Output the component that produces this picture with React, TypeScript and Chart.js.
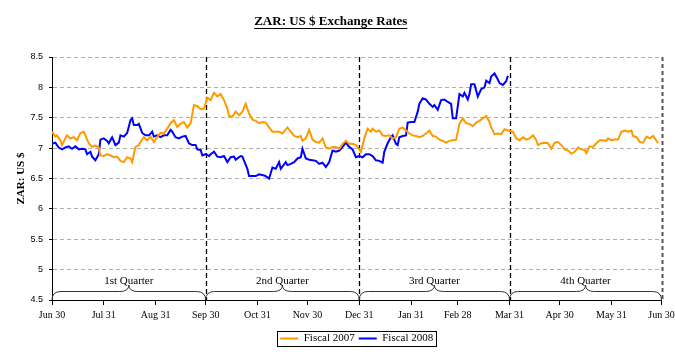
import React, { useEffect, useRef } from 'react';
import { Chart, registerables } from 'chart.js';

Chart.register(...registerables);

const titleText = 'ZAR: US $ Exchange Rates';
const yAxisTitle = 'ZAR: US $';
const seriesNames = ['Fiscal 2007', 'Fiscal 2008'];
const seriesColors = ['#FF9900', '#0000FF'];

const monthEndDays = [0, 31, 62, 92, 123, 153, 184, 215, 243, 274, 304, 335, 365];
const monthEndLabels = ['Jun 30', 'Jul 31', 'Aug 31', 'Sep 30', 'Oct 31', 'Nov 30', 'Dec 31', 'Jan 31', 'Feb 28', 'Mar 31', 'Apr 30', 'May 31', 'Jun 30'];

const quarterBounds = [0, 92, 184, 274, 365];
const quarterLabels = ['1st Quarter', '2nd Quarter', '3rd Quarter', '4th Quarter'];

const fy2007Days = [0, 2, 3, 5, 6, 8, 9, 11, 13, 15, 17, 19, 20, 22, 24, 26, 28, 29, 31, 33, 35, 37, 39, 41, 43, 45, 47, 48, 50, 52, 53, 55, 57, 59, 61, 63, 65, 67, 69, 71, 73, 75, 77, 79, 81, 83, 85, 87, 89, 91, 93, 95, 97, 99, 101, 103, 105, 106, 108, 110, 112, 114, 116, 118, 120, 122, 124, 126, 128, 130, 132, 134, 136, 138, 141, 143, 145, 147, 149, 150, 152, 154, 156, 158, 160, 162, 164, 166, 168, 170, 172, 174, 176, 178, 180, 182, 184, 185, 187, 189, 191, 192, 194, 196, 198, 200, 202, 204, 206, 208, 210, 212, 214, 216, 218, 220, 222, 224, 226, 228, 230, 232, 234, 236, 238, 240, 242, 244, 246, 248, 250, 252, 254, 256, 258, 260, 262, 263, 265, 267, 269, 271, 273, 276, 278, 280, 282, 284, 286, 288, 290, 291, 293, 295, 297, 299, 301, 303, 305, 307, 309, 311, 313, 315, 317, 319, 320, 322, 324, 326, 328, 330, 332, 333, 335, 337, 339, 341, 343, 345, 347, 348, 350, 352, 354, 356, 358, 360, 361, 363];
const fy2007Rates = [7.27, 7.19, 7.21, 7.13, 7.05, 7.16, 7.21, 7.16, 7.18, 7.13, 7.25, 7.27, 7.21, 7.08, 7.02, 7.04, 7.01, 6.88, 6.87, 6.90, 6.88, 6.85, 6.86, 6.79, 6.77, 6.85, 6.83, 6.77, 7.02, 7.05, 7.10, 7.18, 7.13, 7.19, 7.10, 7.18, 7.25, 7.24, 7.32, 7.41, 7.46, 7.35, 7.40, 7.43, 7.34, 7.41, 7.71, 7.69, 7.64, 7.65, 7.83, 7.79, 7.91, 7.85, 7.89, 7.79, 7.65, 7.53, 7.52, 7.60, 7.54, 7.60, 7.73, 7.57, 7.47, 7.45, 7.41, 7.43, 7.42, 7.34, 7.27, 7.27, 7.27, 7.24, 7.34, 7.27, 7.20, 7.18, 7.20, 7.12, 7.16, 7.30, 7.14, 7.10, 7.09, 7.16, 7.01, 6.99, 7.02, 7.02, 6.99, 7.07, 7.12, 7.07, 7.07, 7.05, 6.98, 6.94, 7.16, 7.32, 7.27, 7.32, 7.27, 7.29, 7.21, 7.20, 7.21, 7.16, 7.18, 7.32, 7.34, 7.29, 7.24, 7.21, 7.20, 7.18, 7.20, 7.24, 7.29, 7.20, 7.19, 7.14, 7.12, 7.09, 7.12, 7.13, 7.14, 7.40, 7.49, 7.41, 7.40, 7.36, 7.42, 7.45, 7.49, 7.53, 7.43, 7.34, 7.23, 7.24, 7.23, 7.31, 7.29, 7.27, 7.16, 7.13, 7.18, 7.14, 7.16, 7.21, 7.13, 7.05, 7.08, 7.09, 7.08, 6.99, 7.09, 7.10, 7.05, 6.98, 6.96, 6.91, 6.94, 7.01, 6.98, 6.97, 6.92, 7.03, 7.02, 7.08, 7.13, 7.13, 7.12, 7.16, 7.13, 7.14, 7.14, 7.27, 7.29, 7.27, 7.29, 7.20, 7.18, 7.10, 7.09, 7.19, 7.16, 7.20, 7.16, 7.08];

const fy2008Days = [0, 2, 4, 6, 8, 10, 12, 14, 16, 18, 20, 21, 23, 24, 26, 28, 29, 31, 33, 34, 36, 38, 40, 41, 43, 45, 47, 48, 49, 51, 52, 54, 56, 58, 60, 61, 63, 65, 67, 69, 71, 72, 74, 76, 78, 80, 82, 84, 86, 87, 89, 90, 92, 94, 95, 97, 99, 101, 103, 105, 107, 109, 110, 113, 114, 117, 118, 121, 122, 124, 127, 128, 130, 132, 134, 136, 137, 140, 141, 143, 145, 147, 149, 150, 152, 154, 156, 158, 160, 162, 164, 166, 168, 170, 172, 174, 176, 178, 180, 182, 184, 186, 188, 190, 192, 194, 196, 198, 199, 201, 203, 204, 206, 207, 208, 210, 212, 213, 215, 217, 219, 220, 222, 224, 226, 228, 229, 231, 233, 235, 237, 239, 240, 242, 244, 246, 247, 249, 250, 251, 253, 255, 257, 259, 260, 262, 263, 265, 267, 268, 270, 272, 273];
const fy2008Rates = [7.07, 7.09, 7.01, 6.98, 7.01, 7.03, 6.99, 7.03, 6.98, 6.99, 6.98, 6.90, 6.94, 6.86, 6.80, 6.90, 7.14, 7.16, 7.12, 7.08, 7.18, 7.05, 7.09, 7.21, 7.19, 7.25, 7.46, 7.49, 7.38, 7.38, 7.40, 7.25, 7.21, 7.21, 7.27, 7.19, 7.21, 7.18, 7.21, 7.21, 7.30, 7.27, 7.18, 7.16, 7.19, 7.20, 7.08, 7.05, 7.05, 6.98, 6.97, 6.88, 6.90, 6.87, 6.90, 6.94, 6.86, 6.85, 6.87, 6.77, 6.85, 6.86, 6.81, 6.87, 6.86, 6.66, 6.54, 6.54, 6.54, 6.57, 6.55, 6.54, 6.50, 6.68, 6.66, 6.77, 6.66, 6.77, 6.72, 6.74, 6.77, 6.83, 6.85, 6.99, 6.83, 6.81, 6.80, 6.79, 6.74, 6.76, 6.69, 6.77, 6.96, 6.94, 6.96, 7.02, 7.09, 7.02, 6.98, 6.85, 6.87, 6.85, 6.90, 6.90, 6.87, 6.80, 6.79, 6.76, 6.94, 7.08, 7.18, 7.21, 7.07, 7.05, 7.18, 7.20, 7.21, 7.42, 7.43, 7.43, 7.60, 7.73, 7.82, 7.80, 7.73, 7.68, 7.71, 7.63, 7.79, 7.80, 7.76, 7.73, 7.49, 7.49, 7.89, 7.85, 7.91, 7.80, 7.89, 8.05, 8.05, 7.85, 7.97, 8.00, 8.11, 8.07, 8.18, 8.23, 8.13, 8.07, 8.04, 8.10, 8.19];

const yMin = 4.5;
const yMax = 8.5;
const yStep = 0.5;

const SERIF = '"Liberation Serif", "Times New Roman", serif';
const SANS = '"Liberation Sans", Arial, sans-serif';

const decorPlugin = {
  id: 'decor',
  beforeDatasetsDraw(chart: any) {
    const { ctx, chartArea, scales } = chart;
    const x = scales.x;
    ctx.save();
    quarterBounds.slice(1).forEach((d, i, arr) => {
      const px = Math.round(x.getPixelForValue(d)) + 0.5;
      const last = i === arr.length - 1;
      ctx.strokeStyle = last ? '#555' : '#000';
      ctx.lineWidth = last ? 2 : 1.3;
      ctx.setLineDash(last ? [4, 3] : [5, 3]);
      ctx.beginPath();
      ctx.moveTo(px, chartArea.top);
      ctx.lineTo(px, chartArea.bottom);
      ctx.stroke();
    });
    ctx.restore();
  },
  afterDatasetsDraw(chart: any) {
    const { ctx, chartArea, scales } = chart;
    const x = scales.x;
    const y0 = chartArea.bottom;
    const yh = y0 - 8.5;
    const yp = y0 - 15;
    const r = 9;
    ctx.save();
    ctx.strokeStyle = '#333';
    ctx.lineWidth = 1;
    ctx.setLineDash([]);
    for (let q = 0; q < quarterLabels.length; q++) {
      const xa = x.getPixelForValue(quarterBounds[q]);
      const xb = x.getPixelForValue(quarterBounds[q + 1]);
      const xm = (xa + xb) / 2;
      ctx.beginPath();
      ctx.moveTo(xa, y0);
      ctx.quadraticCurveTo(xa, yh, xa + r, yh);
      ctx.lineTo(xm - r, yh);
      ctx.quadraticCurveTo(xm, yh, xm, yp);
      ctx.quadraticCurveTo(xm, yh, xm + r, yh);
      ctx.lineTo(xb - r, yh);
      ctx.quadraticCurveTo(xb, yh, xb, y0);
      ctx.stroke();
      ctx.fillStyle = '#000';
      ctx.font = `11px ${SERIF}`;
      ctx.textAlign = 'center';
      ctx.textBaseline = 'alphabetic';
      ctx.fillText(quarterLabels[q], xm, y0 - 16.5);
    }
    ctx.restore();
  },
  afterDraw(chart: any) {
    const { ctx } = chart;
    ctx.save();
    const tb = chart.titleBlock;
    if (tb) {
      ctx.font = `bold 13px ${SERIF}`;
      const w = ctx.measureText(titleText).width;
      const cx = (tb.left + tb.right) / 2;
      const cy = tb.top + 14 + 7.8;
      const uy = Math.round(cy + 6.5) + 0.5;
      ctx.strokeStyle = '#000';
      ctx.lineWidth = 1;
      ctx.beginPath();
      ctx.moveTo(cx - w / 2, uy);
      ctx.lineTo(cx + w / 2, uy);
      ctx.stroke();
    }
    const lg = chart.legend;
    if (lg && lg.legendHitBoxes && lg.legendHitBoxes.length) {
      const hb = lg.legendHitBoxes;
      const left = Math.min(...hb.map((h: any) => h.left)) - 3;
      const right = Math.max(...hb.map((h: any) => h.left + h.width)) + 3;
      const top = hb[0].top - 2;
      const bottom = hb[0].top + hb[0].height + 2;
      ctx.strokeStyle = '#000';
      ctx.lineWidth = 1;
      ctx.strokeRect(Math.round(left) + 0.5, Math.round(top) + 0.5, Math.round(right - left), Math.round(bottom - top));
    }
    ctx.restore();
  },
};

export default function App() {
  const canvasRef = useRef<HTMLCanvasElement | null>(null);

  useEffect(() => {
    const canvas = canvasRef.current;
    if (!canvas) return;
    const chart = new Chart(canvas, {
      type: 'line',
      data: {
        datasets: [
          {
            label: seriesNames[0],
            data: fy2007Days.map((d, i) => ({ x: d, y: fy2007Rates[i] })),
            borderColor: seriesColors[0],
            backgroundColor: seriesColors[0],
            borderWidth: 2,
            pointRadius: 0,
            tension: 0,
            fill: false,
          },
          {
            label: seriesNames[1],
            data: fy2008Days.map((d, i) => ({ x: d, y: fy2008Rates[i] })),
            borderColor: seriesColors[1],
            backgroundColor: seriesColors[1],
            borderWidth: 2,
            pointRadius: 0,
            tension: 0,
            fill: false,
          },
        ],
      },
      options: {
        responsive: false,
        animation: false,
        events: [],
        layout: { padding: { left: 0, right: 13.5, top: 0, bottom: 2 } },
        plugins: {
          title: {
            display: true,
            text: titleText,
            color: '#000',
            font: { family: SERIF, size: 13, weight: 'bold' },
            padding: { top: 14, bottom: 27.4 },
          },
          legend: {
            display: true,
            position: 'bottom',
            fullSize: false,
            labels: {
              color: '#000',
              font: { family: SERIF, size: 11 },
              boxWidth: 18,
              boxHeight: 2,
              padding: 4,
              generateLabels: (c: any) =>
                Chart.defaults.plugins.legend.labels.generateLabels(c).map((l: any) => ({
                  ...l,
                  fillStyle: l.strokeStyle,
                  lineWidth: 0,
                })),
            },
          },
          tooltip: { enabled: false },
        },
        scales: {
          x: {
            type: 'linear',
            min: monthEndDays[0],
            max: monthEndDays[monthEndDays.length - 1],
            afterBuildTicks: (s: any) => {
              s.ticks = monthEndDays.map((v) => ({ value: v }));
            },
            afterFit: (s: any) => {
              s.height = 29;
              s.paddingLeft = 0;
              s.paddingRight = 0;
            },
            ticks: {
              autoSkip: false,
              maxRotation: 0,
              minRotation: 0,
              padding: 4,
              color: '#000',
              font: { family: SERIF, size: 10 },
              callback: (v: any) => {
                const i = monthEndDays.indexOf(Number(v));
                return i >= 0 ? monthEndLabels[i] : '';
              },
            },
            grid: {
              display: true,
              drawOnChartArea: false,
              drawTicks: true,
              tickLength: 5,
              tickColor: '#000',
            },
            border: { display: true, color: '#000', width: 1 },
          },
          y: {
            min: yMin,
            max: yMax,
            afterFit: (s: any) => {
              s.width = 52;
            },
            ticks: {
              stepSize: yStep,
              padding: 6,
              color: '#000',
              font: { family: SANS, size: 9 },
              callback: (v: any) => String(Number(v)),
            },
            title: {
              display: true,
              text: yAxisTitle,
              color: '#000',
              font: { family: SERIF, size: 11, weight: 'bold' },
              padding: { top: 15, bottom: 0 },
            },
            grid: {
              display: true,
              drawOnChartArea: true,
              drawTicks: true,
              tickLength: 3,
              tickColor: '#000',
              tickBorderDash: [],
              color: (c: any) => (c.tick && c.tick.value === yMin ? 'rgba(0,0,0,0)' : '#b0b0b0'),
              lineWidth: 1,
            },
            border: { display: true, color: '#000', width: 1, dash: [4, 3] },
          },
        },
      },
      plugins: [decorPlugin],
    } as any);
    return () => chart.destroy();
  }, []);

  return (
    <div style={{ position: 'absolute', left: 0, top: 0, width: 675, height: 356, background: '#fff' }}>
      <canvas ref={canvasRef} width={675} height={356} style={{ display: 'block' }} />
    </div>
  );
}
